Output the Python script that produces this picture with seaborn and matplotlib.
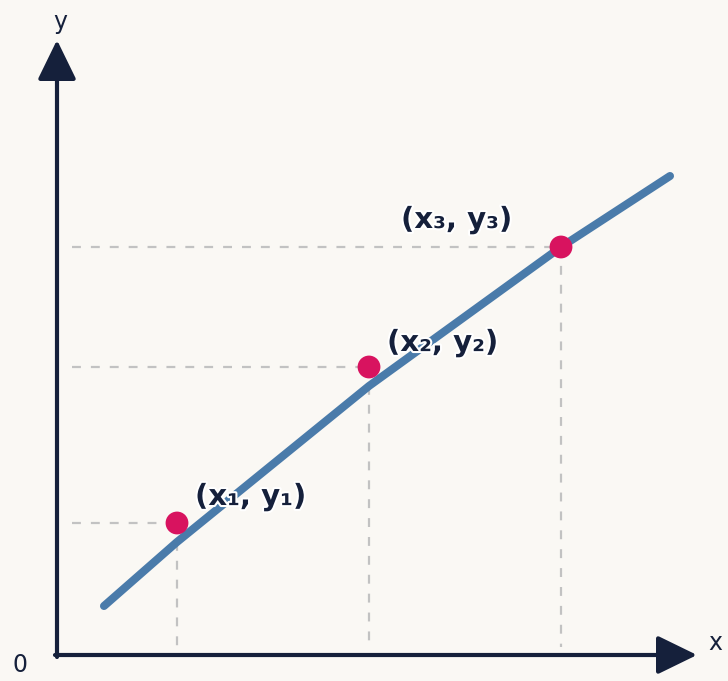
import numpy as np
import pandas as pd
import matplotlib
matplotlib.use("Agg")
import matplotlib.pyplot as plt
import matplotlib.patheffects as pe
import seaborn as sns

# ------------------------------------------
# data (logical units, origin at the axes corner)
# ------------------------------------------
point_x = [1.20, 3.12, 5.04]
point_y = [1.32, 2.88, 4.08]
point_labels = ["(x\u2081, y\u2081)", "(x\u2082, y\u2082)", "(x\u2083, y\u2083)"]
label_x = [1.38, 3.30, 3.44]
label_y = [1.58, 3.12, 4.35]

line_x = [0.47, 1.20, 3.12, 5.04, 6.13]
line_y = [0.49, 1.13, 2.69, 4.08, 4.79]

x_axis_end = 6.40
y_axis_end = 6.15

BG = "#FAF8F4"
NAVY = "#15203B"
BLUE = "#4A7BAA"
PINK = "#D8135F"
GREY = "#C2C2C2"


def main():
    sns.set_theme(style="white")
    fig = plt.figure(figsize=(7.28, 6.81), dpi=100)
    fig.patch.set_facecolor(BG)
    ax = fig.add_axes([0, 0, 1, 1])
    ax.set_facecolor(BG)
    ax.set_xlim(-0.57, 6.71)
    ax.set_ylim(-0.26, 6.55)
    ax.set_axis_off()

    # guide lines from each point to the axes
    for px, py in zip(point_x, point_y):
        ax.plot([0.15, px], [py, py], color=GREY, lw=1.6,
                linestyle=(0, (4.0, 4.5)), zorder=1)
        ax.plot([px, px], [py, 0.08], color=GREY, lw=1.6,
                linestyle=(0, (4.0, 4.5)), zorder=1)

    # the fitted line
    df_line = pd.DataFrame({"x": line_x, "y": line_y})
    sns.lineplot(data=df_line, x="x", y="y", ax=ax, color=BLUE, lw=5.8,
                 sort=False, solid_capstyle="round", zorder=2)

    # the sample points
    df_pts = pd.DataFrame({"x": point_x, "y": point_y})
    sns.scatterplot(data=df_pts, x="x", y="y", ax=ax, color=PINK, s=270,
                    edgecolor="none", zorder=3)

    for lx, ly, txt in zip(label_x, label_y, point_labels):
        ax.text(lx, ly, txt, ha="left", va="center", fontsize=21,
                fontweight="bold", color=NAVY, zorder=4,
                path_effects=[pe.withStroke(linewidth=3, foreground="white")])

    # axes with arrow heads
    arrow = dict(arrowstyle="-|>,head_length=0.82,head_width=0.4",
                 color=NAVY, lw=3, shrinkA=0, shrinkB=0, mutation_scale=30)
    ax.annotate("", xy=(x_axis_end, 0), xytext=(-0.02, 0), arrowprops=arrow, zorder=5)
    ax.annotate("", xy=(0, y_axis_end), xytext=(0, -0.02), arrowprops=arrow, zorder=5)

    ax.text(0.03, 6.33, "y", ha="center", va="center", fontsize=17, color=NAVY)
    ax.text(6.58, 0.12, "x", ha="center", va="center", fontsize=17, color=NAVY)
    ax.text(-0.37, -0.10, "0", ha="center", va="center", fontsize=17, color=NAVY)

    fig.savefig("out.png", dpi=100, facecolor=BG)


if __name__ == "__main__":
    main()
